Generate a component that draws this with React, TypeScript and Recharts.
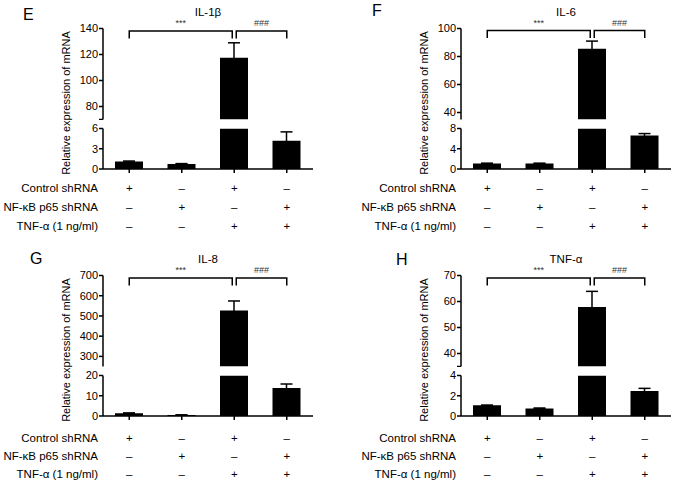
import React from "react";
import { BarChart, Bar, XAxis, YAxis, ErrorBar, ReferenceLine } from "recharts";

const groups = ["ctrl", "p65", "ctrl+TNF", "p65+TNF"];
const controlShRNA = ["+", "–", "+", "–"];
const p65ShRNA = ["–", "+", "–", "+"];
const tnfAlpha = ["–", "–", "+", "+"];
const rowLabels = ["Control shRNA", "NF-κB p65 shRNA", "TNF-α (1 ng/ml)"];

const il1bMean = [1.1, 0.75, 117.5, 4.2];
const il1bErr = [0.08, 0.05, 11.5, 1.3];
const il6Mean = [1.1, 1.1, 85.5, 6.6];
const il6Err = [0.05, 0.05, 5.5, 0.4];
const il8Mean = [1.4, 0.5, 527, 13.8];
const il8Err = [0.1, 0.05, 47, 2];
const tnfMean = [1.05, 0.75, 57.9, 2.48];
const tnfErr = [0.03, 0.04, 6, 0.25];

const FONT = "'Liberation Sans', Arial, sans-serif";
const AXIS_W = 103;
const CHART_W = 320;

type AxisCfg = { domain: [number, number]; ticks: number[] };

const Bracket = (props: any) => {
  const { x1, x2, y1, mark, dl, dr } = props;
  const a = x1 + dl;
  const b = x2 + dr;
  const tip = 7.5;
  return (
    <g>
      <path
        d={`M${a},${y1 + tip}L${a},${y1}L${b},${y1}L${b},${y1 + tip}`}
        fill="none"
        stroke="#000"
        strokeWidth={1.5}
      />
      <text
        x={(a + b) / 2}
        y={y1 - 8}
        textAnchor="middle"
        dominantBaseline="central"
        fontSize={9}
        fill="#333"
        fontFamily={FONT}
      >
        {mark}
      </text>
    </g>
  );
};

const ConditionTick = (props: any) => {
  const { x, y, payload, rowOffsets } = props;
  const i = payload.index;
  const rows = [controlShRNA[i], p65ShRNA[i], tnfAlpha[i]];
  return (
    <g>
      {rows.map((s, k) => (
        <text
          key={k}
          x={x}
          y={y - 4 + rowOffsets[k]}
          textAnchor="middle"
          dominantBaseline="central"
          fontSize={11.5}
          fill="#000"
          fontFamily={FONT}
        >
          {s}
        </text>
      ))}
    </g>
  );
};

interface PanelProps {
  left: number;
  top: number;
  letter: string;
  letterX: number;
  letterY: number;
  title: string;
  mean: number[];
  err: number[];
  upper: AxisCfg;
  lower: AxisCfg;
  bracketLevel: number;
  rowOffsets: number[];
}

const Panel: React.FC<PanelProps> = ({
  left,
  top,
  letter,
  letterX,
  letterY,
  title,
  mean,
  err,
  upper,
  lower,
  bracketLevel,
  rowOffsets,
}) => {
  const upperData = groups.map((g, i) => ({
    name: g,
    value: mean[i] > upper.domain[0] ? mean[i] : null,
    err: mean[i] > upper.domain[0] ? err[i] : null,
  }));
  const lowerData = groups.map((g, i) => ({
    name: g,
    value: Math.min(mean[i], lower.domain[1]),
    err: mean[i] > lower.domain[1] ? null : err[i],
  }));
  const axisProps = {
    axisLine: { stroke: "#000", strokeWidth: 1.5 },
    tickLine: { stroke: "#000", strokeWidth: 1.5 },
    tickSize: 4,
    tickMargin: 1,
    width: AXIS_W,
    tick: { fill: "#000", fontSize: 11, fontFamily: FONT },
    allowDataOverflow: true,
  };
  return (
    <div style={{ position: "absolute", left, top, width: 340, height: 240 }}>
      <div
        style={{
          position: "absolute",
          left: letterX,
          top: letterY - 9,
          fontSize: 16,
          lineHeight: "18px",
          fontFamily: FONT,
        }}
      >
        {letter}
      </div>
      <div
        style={{
          position: "absolute",
          left: AXIS_W,
          width: 210,
          top: 3.5,
          textAlign: "center",
          fontSize: 11.5,
          lineHeight: "16px",
          fontFamily: FONT,
        }}
      >
        {title}
      </div>
      <div
        style={{
          position: "absolute",
          left: 66 - 100,
          top: 102.5 - 8,
          width: 200,
          height: 16,
          lineHeight: "16px",
          textAlign: "center",
          fontSize: 11,
          fontFamily: FONT,
          transform: "rotate(-90deg)",
        }}
      >
        Relative expression of mRNA
      </div>
      {rowLabels.map((r, k) => (
        <div
          key={r}
          style={{
            position: "absolute",
            left: 0,
            width: 98,
            top: 169 + rowOffsets[k] - 8,
            height: 16,
            lineHeight: "16px",
            textAlign: "right",
            fontSize: 11.5,
            fontFamily: FONT,
            whiteSpace: "nowrap",
          }}
        >
          {r}
        </div>
      ))}
      <div style={{ position: "absolute", left: 0, top: 0 }}>
        <BarChart
          width={CHART_W}
          height={119.5}
          data={upperData}
          margin={{ top: 28.5, right: 7, bottom: 0, left: 0 }}
          style={{ overflow: "visible" }}
        >
          <XAxis dataKey="name" type="category" hide />
          <YAxis
            {...axisProps}
            domain={upper.domain}
            ticks={upper.ticks}
            tickFormatter={(v: number) => (v === upper.domain[0] ? "" : String(v))}
          />
          <Bar dataKey="value" fill="#000" barSize={28} isAnimationActive={false}>
            <ErrorBar dataKey="err" width={6} stroke="#000" strokeWidth={1.5} direction="y" />
          </Bar>
          <ReferenceLine
            segment={[
              { x: groups[0], y: bracketLevel },
              { x: groups[2], y: bracketLevel },
            ]}
            shape={(p: any) => <Bracket {...p} mark="***" dl={0} dr={-2} />}
          />
          <ReferenceLine
            segment={[
              { x: groups[2], y: bracketLevel },
              { x: groups[3], y: bracketLevel },
            ]}
            shape={(p: any) => <Bracket {...p} mark="###" dl={2} dr={0} />}
          />
        </BarChart>
      </div>
      <div style={{ position: "absolute", left: 0, top: 120 }}>
        <BarChart
          width={CHART_W}
          height={115}
          data={lowerData}
          margin={{ top: 8.5, right: 7, bottom: 6, left: 0 }}
          style={{ overflow: "visible" }}
        >
          <XAxis
            dataKey="name"
            type="category"
            height={60}
            axisLine={{ stroke: "#000", strokeWidth: 1.5 }}
            tickLine={{ stroke: "#000", strokeWidth: 1.5 }}
            tickSize={4}
            tickMargin={0}
            interval={0}
            tick={(p: any) => <ConditionTick {...p} rowOffsets={rowOffsets} />}
          />
          <YAxis {...axisProps} domain={lower.domain} ticks={lower.ticks} />
          <Bar dataKey="value" fill="#000" barSize={28} isAnimationActive={false}>
            <ErrorBar dataKey="err" width={6} stroke="#000" strokeWidth={1.5} direction="y" />
          </Bar>
        </BarChart>
      </div>
    </div>
  );
};

const topRows = [19, 37.5, 56.5];
const bottomRows = [21.5, 39.5, 57.5];

export default function App() {
  return (
    <div
      style={{
        position: "absolute",
        left: 0,
        top: 0,
        width: 677,
        height: 483,
        background: "#fff",
        overflow: "hidden",
      }}
    >
      <Panel
        left={0}
        top={0}
        letter="E"
        letterX={23}
        letterY={15}
        title="IL-1β"
        mean={il1bMean}
        err={il1bErr}
        upper={{ domain: [70, 140], ticks: [70, 80, 100, 120, 140] }}
        lower={{ domain: [0, 6], ticks: [0, 3, 6] }}
        bracketLevel={138}
        rowOffsets={topRows}
      />
      <Panel
        left={358}
        top={0}
        letter="F"
        letterX={14}
        letterY={11}
        title="IL-6"
        mean={il6Mean}
        err={il6Err}
        upper={{ domain: [35, 100], ticks: [35, 40, 60, 80, 100] }}
        lower={{ domain: [0, 8], ticks: [0, 4, 8] }}
        bracketLevel={98.5}
        rowOffsets={topRows}
      />
      <Panel
        left={0}
        top={247}
        letter="G"
        letterX={30}
        letterY={12}
        title="IL-8"
        mean={il8Mean}
        err={il8Err}
        upper={{ domain: [250, 700], ticks: [250, 300, 400, 500, 600, 700] }}
        lower={{ domain: [0, 20], ticks: [0, 10, 20] }}
        bracketLevel={688}
        rowOffsets={bottomRows}
      />
      <Panel
        left={358}
        top={247}
        letter="H"
        letterX={38}
        letterY={13}
        title="TNF-α"
        mean={tnfMean}
        err={tnfErr}
        upper={{ domain: [35, 70], ticks: [35, 40, 50, 60, 70] }}
        lower={{ domain: [0, 4], ticks: [0, 2, 4] }}
        bracketLevel={69}
        rowOffsets={bottomRows}
      />
    </div>
  );
}
